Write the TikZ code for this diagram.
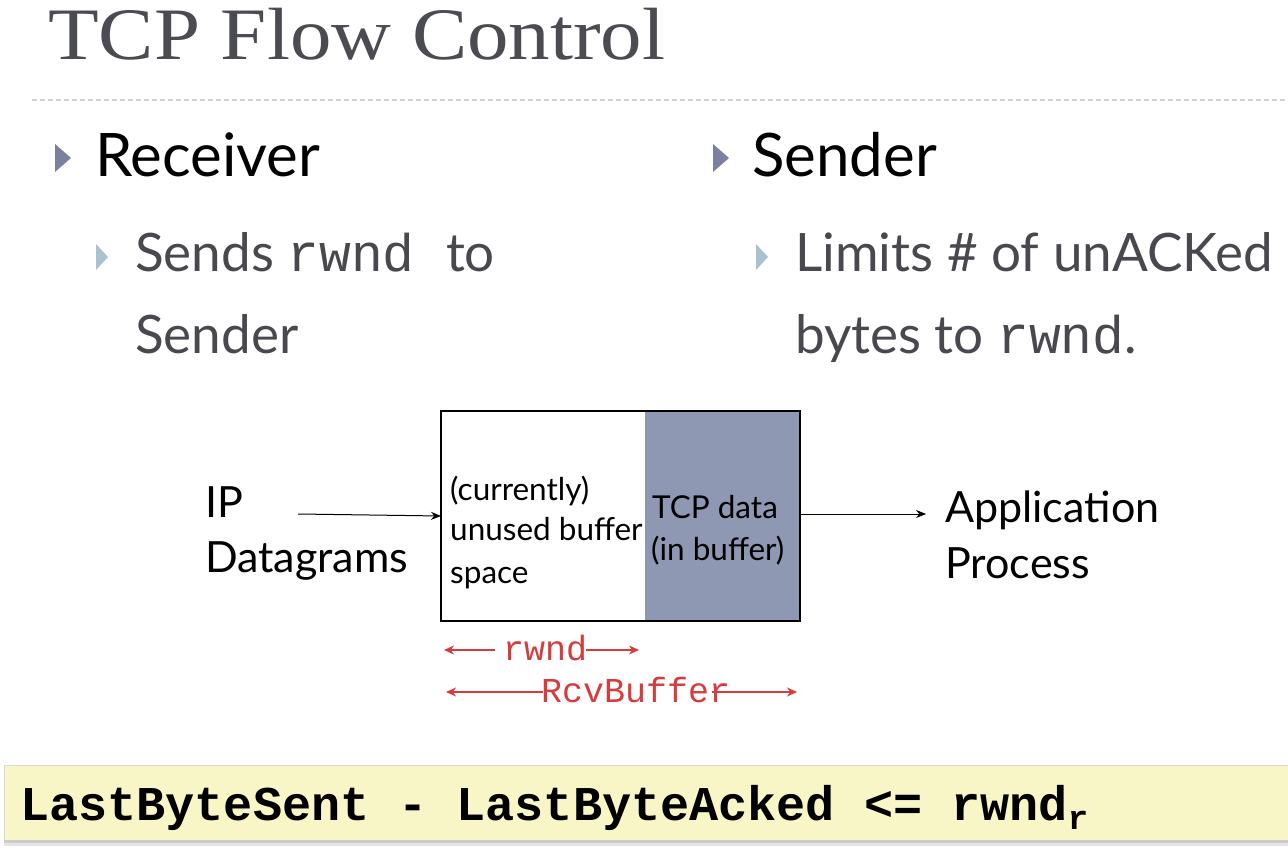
\documentclass[tikz,border=0pt]{standalone}
\usepackage{fontspec}
\setmainfont{Lato}
\newfontfamily\titlefont[FakeStretch=1.12]{Liberation Serif}
\newfontfamily\codefont{Liberation Mono}
\usetikzlibrary{arrows.meta}
\definecolor{titlegray}{HTML}{4B4B52}
\definecolor{bodygray}{HTML}{48484E}
\definecolor{bulletdark}{HTML}{7B7FA0}
\definecolor{bulletlight}{HTML}{A9C2CE}
\definecolor{bufgray}{HTML}{8E98B2}
\definecolor{redc}{HTML}{D63C3C}
\definecolor{yellowbar}{HTML}{F8F6C6}
\tikzset{
  txt/.style={anchor=base west, inner sep=0pt},
  head/.style={txt, text=black, font=\fontsize{60}{60}\selectfont},
  sub/.style={txt, text=bodygray, font=\fontsize{53}{53}\selectfont},
  diag/.style={txt, text=black, font=\fontsize{43}{43}\selectfont},
  inbox/.style={txt, text=black, font=\fontsize{31.5}{31.5}\selectfont},
  redlbl/.style={inner sep=0pt, text=redc, font=\codefont\fontsize{35}{35}\selectfont},
  redarr/.style={draw=redc, line width=1.3pt, -{Stealth[length=10pt,width=9pt]}},
  blkarr/.style={draw=black, line width=1pt, -{Stealth[length=10pt,width=8pt]}},
}
\begin{document}
\begin{tikzpicture}[x=1pt,y=-1pt]
\useasboundingbox (0,0) rectangle (1288,850);
\fill[white] (0,0) rectangle (1288,850);
% title
\node[txt, text=titlegray, font=\titlefont\fontsize{74}{74}\selectfont] (title) at (48,60) {TCP Flow Control};
\draw[black!18, line width=1.3pt, dash pattern=on 5pt off 3pt] (32,100) -- (1288,100);
% bullets
\fill[bulletdark] (55,144) -- (71,158) -- (55,172) -- cycle;
\node[head] (recv) at (95,177) {Receiver};
\fill[bulletlight] (96,244) -- (108,257) -- (96,270) -- cycle;
\node[sub] (sends) at (135,272) {Sends {\codefont rwnd}\,\, to};
\node[sub] (sendr) at (135,353) {Sender};
\fill[bulletdark] (713,144) -- (729,158) -- (713,172) -- cycle;
\node[head] (sender) at (752,177) {Sender};
\fill[bulletlight] (756,244) -- (768,257) -- (756,270) -- cycle;
\node[sub] (limits) at (795,272) {Limits \# of unACKed};
\node[sub] (bytes) at (795,353) {bytes to {\codefont rwnd}.};
% buffer box
\fill[bufgray] (645,411) rectangle (800,621);
\draw[black, line width=2pt] (441,411) rectangle (800,621);
\coordinate (bufW) at (441,516);
\coordinate (bufE) at (800,514);
\node[inbox] (cur) at (450,500) {(currently)};
\node[inbox] (unused) at (450,540) {unused buffer};
\node[inbox] (space) at (450,583) {space};
\node[inbox] (tcpd) at (652,518) {TCP data};
\node[inbox] (inbuf) at (651,560) {(in buffer)};
% left/right labels
\node[diag] (ip) at (205,517) {IP};
\node[diag] (dg) at (205,572) {Datagrams};
\node[diag] (app) at (945,522) {Application};
\node[diag] (proc) at (945,578) {Process};
\coordinate (ipend) at (298,514);
\coordinate (apptip) at (926,514);
\draw[blkarr] (ipend) -- (bufW);
\draw[blkarr] (bufE) -- (apptip);
% red dimension arrows
\node[redlbl, anchor=base west] (rwnd) at (503,660) {rwnd};
\coordinate (rwL) at (444,650);
\coordinate (rwR) at (639,650);
\draw[redarr] (495,650) -- (rwL);
\draw[redarr] (586,650) -- (rwR);
\node[redlbl, anchor=base west] (rcv) at (541,702) {RcvBuffer};
\coordinate (rcL) at (446,692);
\coordinate (rcR) at (797,692);
\draw[redarr] (543,692) -- (rcL);
\draw[redarr] (712,692) -- (rcR);
% bottom bar
\fill[black!10] (4,768) rectangle (1288,846);
\fill[black!20] (4,768) rectangle (1288,843);
\fill[yellowbar] (4,765) rectangle (1288,840);
\draw[black!15, line width=1pt] (4,840) -- (4,765) -- (1288,765);
\node[txt, text=black, font=\codefont\bfseries\fontsize{48.5}{48.5}\selectfont] (eq) at (20,820) {LastByteSent - LastByteAcked <= rwnd\textsubscript{r}};
\end{tikzpicture}
\end{document}
